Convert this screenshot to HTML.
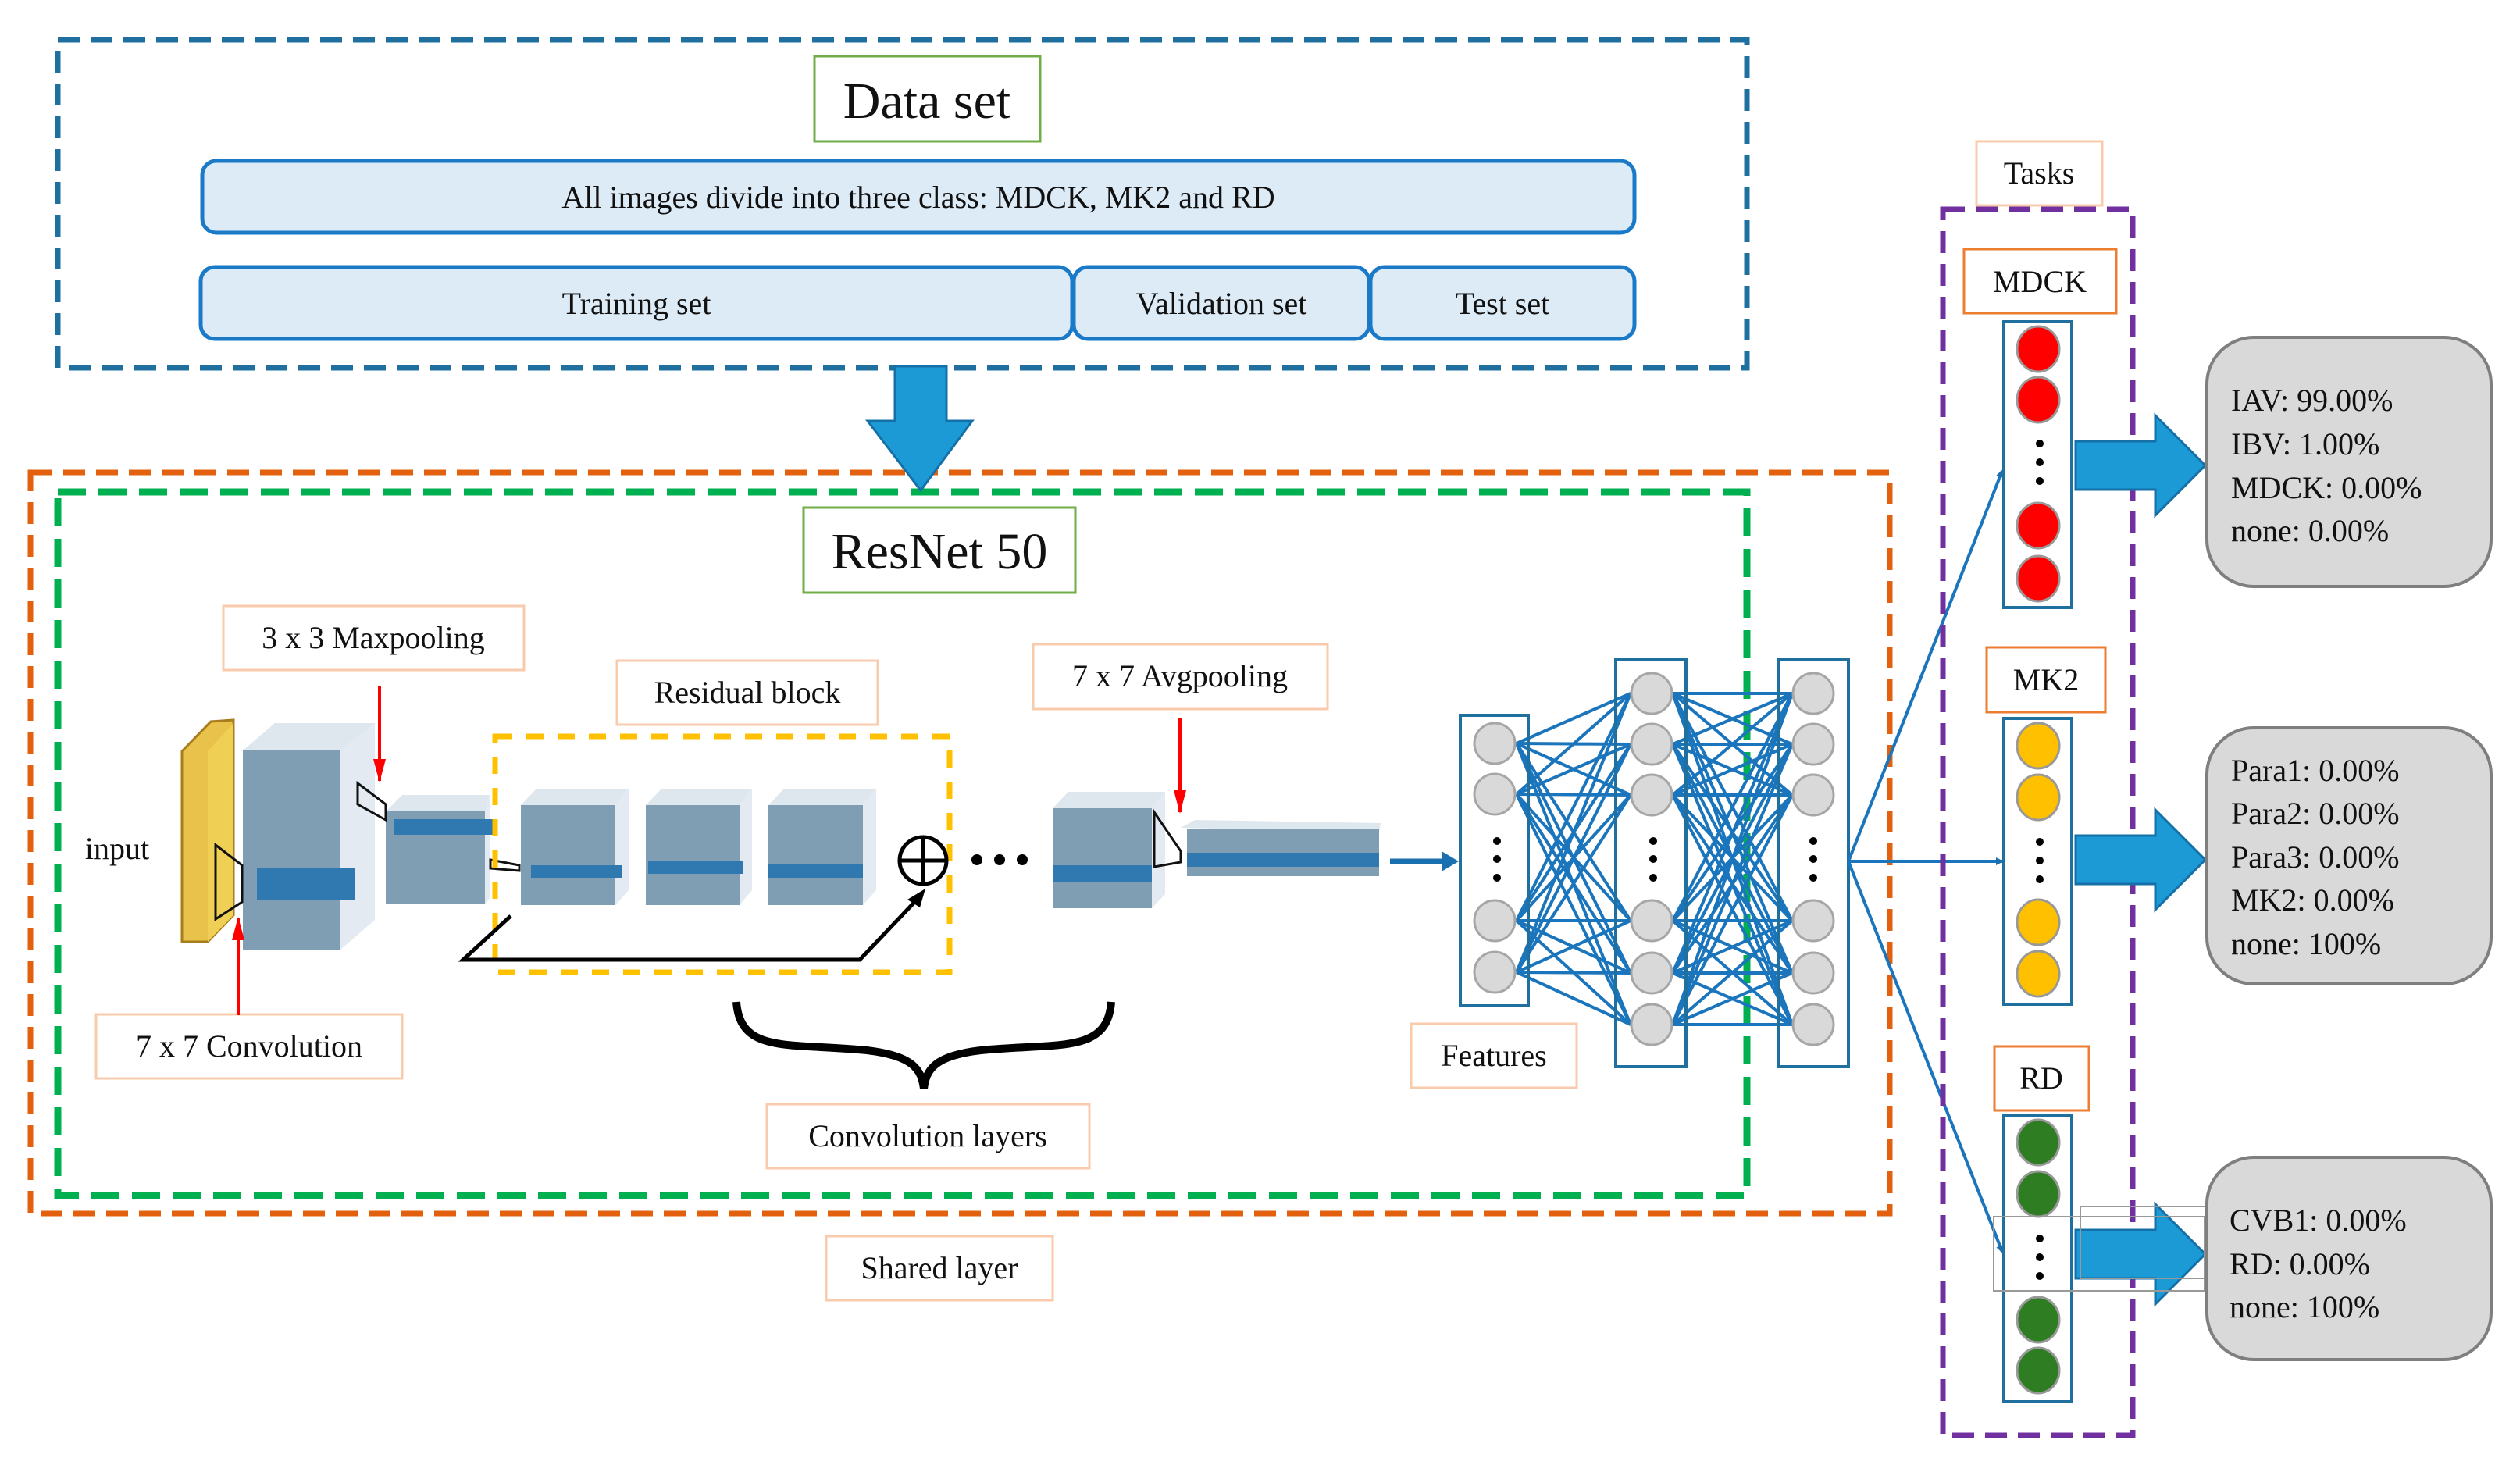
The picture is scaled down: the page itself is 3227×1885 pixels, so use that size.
<!DOCTYPE html>
<html><head><meta charset="utf-8"><style>
html,body{margin:0;padding:0;background:#fff;}
svg{display:block;}
</style></head><body>
<svg width="3227" height="1885" viewBox="0 0 3227 1885" xmlns="http://www.w3.org/2000/svg" font-family="'Liberation Serif', 'DejaVu Serif', serif" fill="#111">
<defs>
<marker id="ab" markerWidth="10" markerHeight="10" refX="8" refY="5" orient="auto" markerUnits="userSpaceOnUse"><path d="M0,0 L10,5 L0,10 z" fill="#1a6fb0"/></marker>
<marker id="ar" markerWidth="30" markerHeight="16" refX="28" refY="8" orient="auto" markerUnits="userSpaceOnUse"><path d="M0,0 L30,8 L0,16 z" fill="#f00"/></marker>
</defs>

<rect x="74" y="51" width="2163" height="420" fill="none" stroke="#1f6f9f" stroke-width="7" stroke-dasharray="28,14"/>
<rect x="1043" y="72" width="289" height="109" fill="#fff" stroke="#70ad47" stroke-width="3"/>
<text x="1187" y="151" font-size="66" text-anchor="middle" font-family="Liberation Serif, serif">Data set</text>
<rect x="259" y="206" width="1834" height="92" rx="18" fill="#ddebf7" stroke="#1a7ac8" stroke-width="5"/>
<text x="1176" y="266" font-size="40" text-anchor="middle" font-family="Liberation Serif, serif">All images divide into three class: MDCK, MK2 and RD</text>
<rect x="257" y="342" width="1116" height="92" rx="18" fill="#ddebf7" stroke="#1a7ac8" stroke-width="5"/>
<rect x="1375" y="342" width="378" height="92" rx="18" fill="#ddebf7" stroke="#1a7ac8" stroke-width="5"/>
<rect x="1755" y="342" width="338" height="92" rx="18" fill="#ddebf7" stroke="#1a7ac8" stroke-width="5"/>
<g font-family="Liberation Serif, serif" font-size="40" text-anchor="middle">
<text x="815" y="402">Training set</text>
<text x="1564" y="402">Validation set</text>
<text x="1924" y="402">Test set</text>
</g>

<rect x="39" y="605" width="2381" height="949" fill="none" stroke="#e2600e" stroke-width="7" stroke-dasharray="28,14"/>
<rect x="74" y="630" width="2163" height="901" fill="none" stroke="#00b050" stroke-width="9" stroke-dasharray="36,16"/>
<path d="M1146,469 L1212,469 L1212,539 L1245,539 L1179,628 L1111,539 L1146,539 z" fill="#1b9ad6" stroke="#1570a8" stroke-width="3"/>

<rect x="1029" y="650" width="348" height="109" fill="#fff" stroke="#70ad47" stroke-width="3"/>
<text x="1203" y="728" font-size="66" text-anchor="middle" font-family="Liberation Serif, serif">ResNet 50</text>

<g fill="#fff" stroke="#f8cbad" stroke-width="3">
<rect x="286" y="776" width="385" height="82"/>
<rect x="790" y="846" width="334" height="82"/>
<rect x="1323" y="825" width="377" height="83"/>
<rect x="123" y="1299" width="392" height="82"/>
<rect x="982" y="1414" width="413" height="82"/>
<rect x="1058" y="1583" width="290" height="82"/>
<rect x="1807" y="1311" width="212" height="82"/>
<rect x="2531" y="181" width="161" height="82"/>
</g>
<g font-family="Liberation Serif, serif" font-size="40" text-anchor="middle">
<text x="478" y="830">3 x 3 Maxpooling</text>
<text x="957" y="900">Residual block</text>
<text x="1511" y="879">7 x 7 Avgpooling</text>
<text x="319" y="1353">7 x 7 Convolution</text>
<text x="1188" y="1468">Convolution layers</text>
<text x="1203" y="1637">Shared layer</text>
<text x="1913" y="1365">Features</text>
<text x="2611" y="235">Tasks</text>
<text x="150" y="1100">input</text>
</g>

<polygon points="233,962 270,924 299,922 299,1172 266,1206 233,1206" fill="#e8c24a" stroke="#a87d1c" stroke-width="3"/>
<polygon points="266,962 299,926 299,1172 266,1206" fill="#f0cf55"/>
<polygon points="311,961 352,926 480,926 436,961" fill="#dfe7ee"/>
<polygon points="436,961 480,926 480,1178 436,1216" fill="#e3eaf1"/>
<rect x="311" y="961" width="125" height="255" fill="#7f9db3"/>
<rect x="329" y="1111" width="125" height="42" fill="#2f78b0"/>
<polygon points="494,1039 515,1018 627,1018 621,1039" fill="#dfe7ee"/>
<rect x="494" y="1039" width="127" height="119" fill="#7f9db3"/>
<polygon points="621,1039 627,1018 627,1150 621,1158" fill="#e3eaf1"/>
<rect x="504" y="1049" width="127" height="20" fill="#2f78b0"/>
<g>
<polygon points="667,1031 687,1010 805,1010 788,1031" fill="#dfe7ee"/><rect x="667" y="1031" width="121" height="128" fill="#7f9db3"/><polygon points="788,1031 805,1010 805,1140 788,1159" fill="#e3eaf1"/><rect x="680" y="1108" width="116" height="16" fill="#2f78b0"/>
<polygon points="827,1031 847,1010 963,1010 947,1031" fill="#dfe7ee"/><rect x="827" y="1031" width="120" height="128" fill="#7f9db3"/><polygon points="947,1031 963,1010 963,1140 947,1159" fill="#e3eaf1"/><rect x="830" y="1103" width="121" height="16" fill="#2f78b0"/>
<polygon points="984,1031 1004,1010 1122,1010 1105,1031" fill="#dfe7ee"/><rect x="984" y="1031" width="121" height="128" fill="#7f9db3"/><polygon points="1105,1031 1122,1010 1122,1140 1105,1159" fill="#e3eaf1"/><rect x="984" y="1106" width="121" height="18" fill="#2f78b0"/>
</g>
<polygon points="1348,1035 1368,1014 1492,1014 1475,1035" fill="#dfe7ee"/>
<rect x="1348" y="1035" width="127" height="128" fill="#7f9db3"/>
<polygon points="1475,1035 1492,1014 1492,1145 1475,1163" fill="#e3eaf1"/>
<rect x="1348" y="1108" width="127" height="22" fill="#2f78b0"/>
<polygon points="1512,1060 1530,1050 1768,1054 1766,1066" fill="#dfe7ee"/>
<rect x="1520" y="1062" width="246" height="60" fill="#7f9db3"/>
<rect x="1520" y="1092" width="246" height="18" fill="#2f78b0"/>
<g fill="none" stroke="#111" stroke-width="3">
<polygon points="276,1082 310,1108 310,1155 276,1177"/>
<polygon points="458,1003 494,1030 494,1050 458,1030"/>
<polygon points="628,1101 665,1108 665,1115 628,1112"/>
<polygon points="1478,1040 1512,1090 1512,1104 1478,1110"/>
</g>
<rect x="634" y="943" width="582" height="302" fill="none" stroke="#ffc000" stroke-width="7" stroke-dasharray="22,18"/>
<path d="M654,1173 L593,1229 L1101,1229 L1176,1150" fill="none" stroke="#000" stroke-width="5"/>
<path d="M1185,1138 L1162,1152 L1178,1162 z" fill="#000"/>
<circle cx="1182" cy="1102" r="30" fill="#fff" stroke="#000" stroke-width="5"/>
<line x1="1152" y1="1102" x2="1212" y2="1102" stroke="#000" stroke-width="5"/>
<line x1="1182" y1="1072" x2="1182" y2="1132" stroke="#000" stroke-width="5"/>
<circle cx="1251" cy="1101" r="7" fill="#000"/><circle cx="1280" cy="1101" r="7" fill="#000"/><circle cx="1309" cy="1101" r="7" fill="#000"/>
<line x1="486" y1="879" x2="486" y2="1000" stroke="#f00" stroke-width="4" marker-end="url(#ar)"/>
<line x1="1511" y1="920" x2="1511" y2="1040" stroke="#f00" stroke-width="4" marker-end="url(#ar)"/>
<line x1="305" y1="1300" x2="305" y2="1176" stroke="#f00" stroke-width="4" marker-end="url(#ar)"/>
<path d="M943,1283 C948,1350 1010,1335 1110,1345 C1170,1352 1180,1370 1183,1394 C1186,1370 1196,1352 1256,1345 C1356,1335 1418,1350 1423,1283" fill="none" stroke="#000" stroke-width="10"/>

<line x1="1780" y1="1103" x2="1860" y2="1103" stroke="#1a6fb0" stroke-width="7"/>
<path d="M1846,1090 L1868,1103 L1846,1116 z" fill="#1a6fb0"/>

<path fill="none" stroke="#1a75bc" stroke-width="4" d="
M1942,952L2088,888M1942,952L2088,953M1942,952L2088,1018M1942,952L2088,1179M1942,952L2088,1246M1942,952L2088,1312
M1942,1017L2088,888M1942,1017L2088,953M1942,1017L2088,1018M1942,1017L2088,1179M1942,1017L2088,1246M1942,1017L2088,1312
M1942,1179L2088,888M1942,1179L2088,953M1942,1179L2088,1018M1942,1179L2088,1179M1942,1179L2088,1246M1942,1179L2088,1312
M1942,1245L2088,888M1942,1245L2088,953M1942,1245L2088,1018M1942,1245L2088,1179M1942,1245L2088,1246M1942,1245L2088,1312
M2142,888L2295,888M2142,888L2295,953M2142,888L2295,1018M2142,888L2295,1179M2142,888L2295,1246M2142,888L2295,1312
M2142,953L2295,888M2142,953L2295,953M2142,953L2295,1018M2142,953L2295,1179M2142,953L2295,1246M2142,953L2295,1312
M2142,1018L2295,888M2142,1018L2295,953M2142,1018L2295,1018M2142,1018L2295,1179M2142,1018L2295,1246M2142,1018L2295,1312
M2142,1179L2295,888M2142,1179L2295,953M2142,1179L2295,1018M2142,1179L2295,1179M2142,1179L2295,1246M2142,1179L2295,1312
M2142,1246L2295,888M2142,1246L2295,953M2142,1246L2295,1018M2142,1246L2295,1179M2142,1246L2295,1246M2142,1246L2295,1312
M2142,1312L2295,888M2142,1312L2295,953M2142,1312L2295,1018M2142,1312L2295,1179M2142,1312L2295,1246M2142,1312L2295,1312"/>
<g fill="none" stroke="#1f6f9f" stroke-width="4">
<rect x="1870" y="916" width="87" height="372"/>
<rect x="2069" y="845" width="90" height="521"/>
<rect x="2278" y="845" width="89" height="521"/>
</g>
<g fill="#d9d9d9" stroke="#a6a6a6" stroke-width="3">
<circle cx="1914" cy="952" r="26"/><circle cx="1914" cy="1017" r="26"/><circle cx="1914" cy="1179" r="26"/><circle cx="1914" cy="1245" r="26"/>
<circle cx="2115" cy="888" r="26"/><circle cx="2115" cy="953" r="26"/><circle cx="2115" cy="1018" r="26"/><circle cx="2115" cy="1179" r="26"/><circle cx="2115" cy="1246" r="26"/><circle cx="2115" cy="1312" r="26"/>
<circle cx="2322" cy="888" r="26"/><circle cx="2322" cy="953" r="26"/><circle cx="2322" cy="1018" r="26"/><circle cx="2322" cy="1179" r="26"/><circle cx="2322" cy="1246" r="26"/><circle cx="2322" cy="1312" r="26"/>
</g>
<g fill="#000">
<circle cx="1917" cy="1077" r="5"/><circle cx="1917" cy="1100" r="5"/><circle cx="1917" cy="1124" r="5"/>
<circle cx="2117" cy="1077" r="5"/><circle cx="2117" cy="1100" r="5"/><circle cx="2117" cy="1124" r="5"/>
<circle cx="2322" cy="1077" r="5"/><circle cx="2322" cy="1100" r="5"/><circle cx="2322" cy="1124" r="5"/>
</g>

<g stroke="#1a75bc" stroke-width="4" fill="none">
<line x1="2367" y1="1103" x2="2564" y2="603" marker-end="url(#ab)"/>
<line x1="2367" y1="1103" x2="2564" y2="1103" marker-end="url(#ab)"/>
<line x1="2367" y1="1103" x2="2564" y2="1603" marker-end="url(#ab)"/>
</g>

<rect x="2488" y="268" width="243" height="1570" fill="none" stroke="#7030a0" stroke-width="7" stroke-dasharray="28,14"/>
<g fill="#fff" stroke="#ed7d31" stroke-width="3">
<rect x="2515" y="319" width="195" height="82"/>
<rect x="2544" y="829" width="152" height="83"/>
<rect x="2554" y="1340" width="121" height="82"/>
</g>
<g font-family="Liberation Serif, serif" font-size="40" text-anchor="middle">
<text x="2612" y="374">MDCK</text>
<text x="2620" y="884">MK2</text>
<text x="2614" y="1394">RD</text>
</g>
<g fill="#fff" stroke="#1f6f9f" stroke-width="4">
<rect x="2566" y="412" width="87" height="366"/>
<rect x="2566" y="920" width="87" height="366"/>
<rect x="2566" y="1428" width="87" height="367"/>
</g>
<g stroke="#999" stroke-width="3">
<g fill="#ff0000"><ellipse cx="2610" cy="447" rx="27" ry="29"/><ellipse cx="2610" cy="512" rx="27" ry="29"/><ellipse cx="2610" cy="673" rx="27" ry="29"/><ellipse cx="2610" cy="741" rx="27" ry="29"/></g>
<g fill="#ffc000"><ellipse cx="2610" cy="955" rx="27" ry="29"/><ellipse cx="2610" cy="1021" rx="27" ry="29"/><ellipse cx="2610" cy="1181" rx="27" ry="29"/><ellipse cx="2610" cy="1247" rx="27" ry="29"/></g>
<g fill="#2e7d22"><ellipse cx="2610" cy="1463" rx="27" ry="29"/><ellipse cx="2610" cy="1529" rx="27" ry="29"/><ellipse cx="2610" cy="1690" rx="27" ry="29"/><ellipse cx="2610" cy="1755" rx="27" ry="29"/></g>
</g>
<g fill="#000">
<circle cx="2612" cy="568" r="5"/><circle cx="2612" cy="592" r="5"/><circle cx="2612" cy="616" r="5"/>
<circle cx="2612" cy="1078" r="5"/><circle cx="2612" cy="1102" r="5"/><circle cx="2612" cy="1126" r="5"/>
<circle cx="2612" cy="1586" r="5"/><circle cx="2612" cy="1610" r="5"/><circle cx="2612" cy="1634" r="5"/>
</g>

<g fill="#1b9ad6" stroke="#1570a8" stroke-width="3">
<path d="M2658,565 L2760,565 L2760,532 L2824,596 L2760,660 L2760,627 L2658,627 z"/>
<path d="M2658,1070 L2760,1070 L2760,1037 L2824,1101 L2760,1165 L2760,1132 L2658,1132 z"/>
<path d="M2658,1575 L2760,1575 L2760,1542 L2824,1606 L2760,1670 L2760,1637 L2658,1637 z"/>
</g>
<g fill="none" stroke="#999" stroke-width="2">
<rect x="2553" y="1558" width="270" height="95"/>
<rect x="2664" y="1545" width="160" height="92"/>
</g>

<g fill="#d9d9d9" stroke="#7f7f7f" stroke-width="4">
<rect x="2826" y="432" width="364" height="319" rx="60"/>
<rect x="2826" y="932" width="364" height="328" rx="60"/>
<rect x="2826" y="1482" width="364" height="259" rx="60"/>
</g>
<g font-family="Liberation Serif, serif" font-size="40">
<text x="2857" y="526">IAV: 99.00%</text>
<text x="2857" y="582">IBV: 1.00%</text>
<text x="2857" y="638">MDCK: 0.00%</text>
<text x="2857" y="693">none: 0.00%</text>
<text x="2857" y="1000">Para1: 0.00%</text>
<text x="2857" y="1055">Para2: 0.00%</text>
<text x="2857" y="1111">Para3: 0.00%</text>
<text x="2857" y="1166">MK2: 0.00%</text>
<text x="2857" y="1222">none: 100%</text>
<text x="2855" y="1576">CVB1: 0.00%</text>
<text x="2855" y="1632">RD: 0.00%</text>
<text x="2855" y="1687">none: 100%</text>
</g>
</svg>
</body></html>
